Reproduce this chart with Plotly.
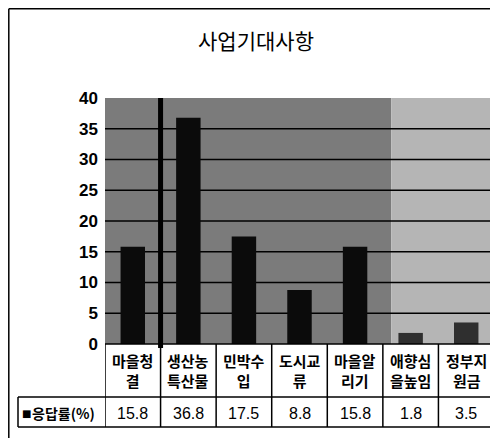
import plotly.graph_objects as go

# ---- data ----
title_text = "사업기대사항"
categories = ["마을청결", "생산농특산물", "민박수입", "도시교류", "마을알리기", "애향심을높임", "정부지원금"]
cat_labels = ["마을청<br>결", "생산농<br>특산물", "민박수<br>입", "도시교<br>류", "마을알<br>리기", "애향심<br>을높임", "정부지<br>원금"]
series_name = "응답률(%)"
values = [15.8, 36.8, 17.5, 8.8, 15.8, 1.8, 3.5]
y_ticks = [0, 5, 10, 15, 20, 25, 30, 35, 40]

# ---- layout geometry (reference pixels; page body adds an 8px offset) ----
OFF = 8
W, H = 498 - OFF, 438 - OFF
PL, PR, PT, PB = 105 - OFF, 494 - OFF, 98 - OFF, 344 - OFF
PW, PH = PR - PL, PB - PT
n = len(categories)


def px(xp):  # reference pixel -> paper x
    return (xp - OFF - PL) / PW


def py(yp):  # reference pixel -> paper y
    return (PB - (yp - OFF)) / PH


ROW1_BOT = 397
ROW2_BOT = 427
LABEL_LEFT = 18
REF_PB = 344

bar_colors = ["#0b0b0b"] * 5 + ["#2f2f2f"] * 2

fig = go.Figure()
fig.add_trace(go.Bar(
    x=list(range(n)), y=values, width=0.44,
    marker=dict(color=bar_colors, line=dict(width=0)),
    name=series_name, showlegend=False, hoverinfo="skip",
))

shapes = []
split = 4.65
shapes.append(dict(type="rect", xref="x", yref="paper", x0=-0.5, x1=split, y0=0, y1=1,
                   fillcolor="#7b7b7b", line=dict(width=0), layer="below"))
shapes.append(dict(type="rect", xref="x", yref="paper", x0=split, x1=n - 0.5, y0=0, y1=1,
                   fillcolor="#b5b5b5", line=dict(width=0), layer="below"))
for t in y_ticks[1:-1]:
    shapes.append(dict(type="line", xref="paper", yref="y", x0=0, x1=1, y0=t, y1=t,
                       line=dict(color="#000000", width=1.5), layer="below"))
shapes.append(dict(type="line", xref="x", yref="paper", x0=0.5, x1=0.5, y0=py(REF_PB + 4), y1=1,
                   line=dict(color="#000000", width=5), layer="above"))

line_k = dict(color="#000000", width=1.5)
shapes.append(dict(type="line", xref="paper", yref="paper", x0=0, x1=1, y0=0, y1=0, line=line_k))
shapes.append(dict(type="line", xref="paper", yref="paper", x0=px(LABEL_LEFT), x1=1,
                   y0=py(ROW1_BOT), y1=py(ROW1_BOT), line=line_k))
shapes.append(dict(type="line", xref="paper", yref="paper", x0=px(LABEL_LEFT), x1=1,
                   y0=py(ROW2_BOT), y1=py(ROW2_BOT), line=line_k))
shapes.append(dict(type="line", xref="paper", yref="paper", x0=px(LABEL_LEFT), x1=px(LABEL_LEFT),
                   y0=py(ROW1_BOT), y1=py(ROW2_BOT), line=line_k))
for i in range(n + 1):
    shapes.append(dict(type="line", xref="x", yref="paper", x0=i - 0.5, x1=i - 0.5,
                       y0=0, y1=py(ROW2_BOT), line=line_k))
shapes.append(dict(type="line", xref="paper", yref="paper", x0=px(OFF + 0.8), x1=px(OFF + 0.8),
                   y0=py(OFF + 0.8), y1=py(438), line=dict(color="#000000", width=1.5)))
shapes.append(dict(type="line", xref="paper", yref="paper", x0=px(OFF + 0.8), x1=px(498),
                   y0=py(OFF + 0.8), y1=py(OFF + 0.8), line=dict(color="#000000", width=1.5)))

annotations = []
cat_font = dict(family="Noto Sans CJK KR", size=15, color="#000000", weight="bold")
val_font = dict(family="Liberation Sans", size=16, color="#000000")
for i in range(n):
    annotations.append(dict(x=i, y=py((REF_PB + ROW1_BOT) / 2), xref="x", yref="paper",
                            text=cat_labels[i], showarrow=False, font=cat_font,
                            xanchor="center", yanchor="middle", align="center"))
    annotations.append(dict(x=i, y=py((ROW1_BOT + ROW2_BOT) / 2 + 1), xref="x", yref="paper",
                            text=f"{values[i]}", showarrow=False, font=val_font,
                            xanchor="center", yanchor="middle"))
annotations.append(dict(x=px(20), y=py((ROW1_BOT + ROW2_BOT) / 2 + 1), xref="paper", yref="paper",
                        text="■", showarrow=False, xanchor="left", yanchor="middle",
                        font=dict(family="DejaVu Sans", size=10, color="#000000")))
annotations.append(dict(x=px(30), y=py((ROW1_BOT + ROW2_BOT) / 2 + 1), xref="paper", yref="paper",
                        text=series_name, showarrow=False, xanchor="left", yanchor="middle",
                        font=dict(family="Noto Sans CJK KR", size=14, color="#000000", weight="bold")))

fig.update_layout(
    width=W, height=H,
    margin=dict(l=PL, r=W - PR, t=PT, b=H - PB, pad=0),
    paper_bgcolor="#ffffff", plot_bgcolor="rgba(0,0,0,0)",
    title=dict(text=title_text, x=(256 - OFF) / W, xanchor="center", y=1 - (42 - OFF) / H,
               yanchor="middle",
               font=dict(family="Noto Sans CJK KR", size=21, color="#000000")),
    xaxis=dict(range=[-0.5, n - 0.5], showticklabels=False, showgrid=False, zeroline=False,
               showline=False, ticks="", fixedrange=True),
    yaxis=dict(range=[0, 40], tickvals=y_ticks, ticktext=[str(t) for t in y_ticks],
               showgrid=False, zeroline=False, showline=False, ticks="", ticklabelstandoff=6,
               tickfont=dict(family="Liberation Sans", size=17, color="#000000", weight="bold")),
    shapes=shapes, annotations=annotations, bargap=0.5,
)

fig.write_html("out.html")
